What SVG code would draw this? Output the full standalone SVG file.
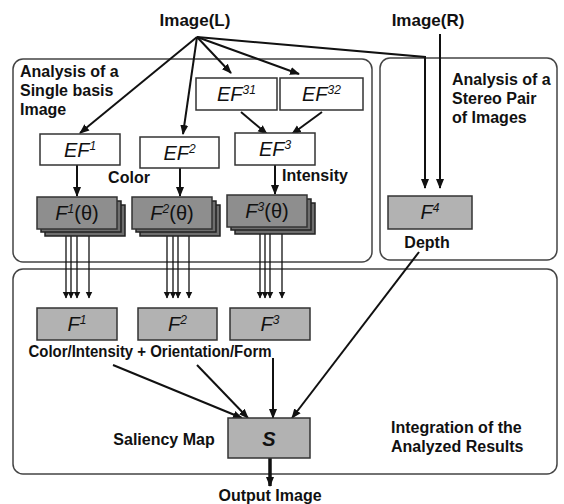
<svg xmlns="http://www.w3.org/2000/svg" width="564" height="504" viewBox="0 0 564 504">
<defs>
<marker id="ah" markerUnits="userSpaceOnUse" markerWidth="10" markerHeight="10" viewBox="0 0 10 10" refX="9" refY="5" orient="auto">
<path d="M0,1 L10,5 L0,9 Z" fill="#111"/>
</marker>
<marker id="ahs" markerUnits="userSpaceOnUse" markerWidth="7" markerHeight="8" viewBox="0 0 7 8" refX="6.5" refY="4" orient="auto">
<path d="M0,0.5 L7,4 L0,7.5 Z" fill="#111"/>
</marker>
<style>
.grp{fill:#fff;stroke:#444;stroke-width:1.5}
.box{fill:#fff;stroke:#333;stroke-width:1.5}
.g1{fill:#b2b2b2;stroke:#333;stroke-width:1.5}
.g2{fill:#8e8e8e;stroke:#333;stroke-width:1.5}
.g3{fill:#6e6e6e;stroke:#222;stroke-width:1.5}
.lbl{font-family:"Liberation Sans",Arial,sans-serif;font-weight:bold;font-size:16px;fill:#111}
.ttl{font-family:"Liberation Sans",Arial,sans-serif;font-weight:bold;font-size:17px;fill:#111}
.ef{font-family:"Liberation Sans",Arial,sans-serif;font-style:italic;font-size:20px;fill:#111}
.c{stroke:#111;stroke-width:2;fill:none}
.t{stroke:#111;stroke-width:1.3;fill:none}
</style>
</defs>

<g id="groups">
<rect class="grp" x="13" y="59" width="359" height="203" rx="10"/>
<rect class="grp" x="380" y="58" width="177" height="202" rx="10"/>
<rect class="grp" x="13" y="269" width="544" height="205" rx="10"/>
</g>

<g id="connectors">
<line class="c" x1="197" y1="37" x2="80" y2="133" marker-end="url(#ah)"/>
<line class="c" x1="197" y1="37" x2="183" y2="134" marker-end="url(#ah)"/>
<line class="c" x1="197" y1="37" x2="231" y2="73" marker-end="url(#ah)"/>
<line class="c" x1="197" y1="37" x2="299" y2="74" marker-end="url(#ah)"/>
<polyline class="c" points="197,37 425,57 425,188" marker-end="url(#ah)"/>
<line class="c" x1="440" y1="34" x2="440" y2="188" marker-end="url(#ah)"/>
<line class="c" x1="241" y1="112" x2="267" y2="134" marker-end="url(#ah)"/>
<line class="c" x1="322" y1="112" x2="292" y2="134" marker-end="url(#ah)"/>
<line class="c" x1="77" y1="165" x2="77" y2="196" marker-end="url(#ah)"/>
<line class="c" x1="180" y1="168" x2="180" y2="196" marker-end="url(#ah)"/>
<line class="c" x1="275" y1="165" x2="275" y2="194" marker-end="url(#ah)"/>
<g>
<line class="t" x1="66" y1="236" x2="66" y2="298" marker-end="url(#ahs)"/>
<line class="t" x1="71" y1="236" x2="71" y2="298" marker-end="url(#ahs)"/>
<line class="t" x1="77" y1="236" x2="77" y2="298" marker-end="url(#ahs)"/>
<line class="t" x1="89" y1="236" x2="89" y2="298" marker-end="url(#ahs)"/>
<line class="t" x1="167" y1="236" x2="167" y2="298" marker-end="url(#ahs)"/>
<line class="t" x1="173" y1="236" x2="173" y2="298" marker-end="url(#ahs)"/>
<line class="t" x1="178" y1="236" x2="178" y2="298" marker-end="url(#ahs)"/>
<line class="t" x1="189" y1="236" x2="189" y2="298" marker-end="url(#ahs)"/>
<line class="t" x1="260" y1="234" x2="260" y2="298" marker-end="url(#ahs)"/>
<line class="t" x1="265" y1="234" x2="265" y2="298" marker-end="url(#ahs)"/>
<line class="t" x1="270" y1="234" x2="270" y2="298" marker-end="url(#ahs)"/>
<line class="t" x1="282" y1="234" x2="282" y2="298" marker-end="url(#ahs)"/>
</g>
<line class="c" x1="113" y1="365" x2="242" y2="418" marker-end="url(#ah)"/>
<line class="c" x1="197" y1="365" x2="248" y2="418" marker-end="url(#ah)"/>
<line class="c" x1="273" y1="358" x2="273" y2="418" marker-end="url(#ah)"/>
<line class="c" x1="419" y1="252" x2="292" y2="418" marker-end="url(#ah)"/>
<line stroke="#111" stroke-width="3.5" x1="270" y1="458" x2="270" y2="486" marker-end="url(#ah)"/>
</g>

<g id="labels">
<text class="ttl" x="195" y="26" text-anchor="middle">Image(L)</text>
<text class="ttl" x="428" y="26" text-anchor="middle">Image(R)</text>
<text class="lbl" x="20" y="77">Analysis of a</text>
<text class="lbl" x="20" y="96">Single basis</text>
<text class="lbl" x="20" y="115">Image</text>
<text class="lbl" x="452" y="85">Analysis of a</text>
<text class="lbl" x="452" y="104">Stereo Pair</text>
<text class="lbl" x="452" y="123">of Images</text>
<text class="lbl" x="129" y="183" text-anchor="middle">Color</text>
<text class="lbl" x="315" y="181" text-anchor="middle">Intensity</text>
<text class="lbl" x="427" y="248" text-anchor="middle">Depth</text>
<text class="lbl" x="150" y="357" text-anchor="middle" textLength="243" lengthAdjust="spacingAndGlyphs">Color/Intensity + Orientation/Form</text>
<text class="lbl" x="164" y="445" text-anchor="middle">Saliency Map</text>
<text class="lbl" x="391" y="433">Integration of the</text>
<text class="lbl" x="391" y="452">Analyzed Results</text>
<text class="lbl" x="270" y="501" text-anchor="middle">Output Image</text>
</g>

<g id="EF31"><rect class="box" x="196" y="78" width="81" height="32"/>
<text class="ef" x="236.5" y="101" text-anchor="middle">EF<tspan dy="-7" font-size="12">31</tspan></text></g>
<g id="EF32"><rect class="box" x="280" y="78" width="83" height="32"/>
<text class="ef" x="321.5" y="101" text-anchor="middle">EF<tspan dy="-7" font-size="12">32</tspan></text></g>
<g id="EF1"><rect class="box" x="40" y="134" width="80" height="31"/>
<text class="ef" x="80" y="157" text-anchor="middle">EF<tspan dy="-7" font-size="12">1</tspan></text></g>
<g id="EF2"><rect class="box" x="140" y="137" width="79" height="31"/>
<text class="ef" x="179.5" y="160" text-anchor="middle">EF<tspan dy="-7" font-size="12">2</tspan></text></g>
<g id="EF3"><rect class="box" x="235" y="133" width="80" height="32"/>
<text class="ef" x="275" y="156" text-anchor="middle">EF<tspan dy="-7" font-size="12">3</tspan></text></g>

<g id="F1theta">
<rect class="g3" x="45" y="205" width="80" height="31"/>
<rect class="g3" x="41" y="201" width="80" height="31"/>
<rect class="g2" x="37" y="197" width="80" height="32"/>
<text class="ef" x="77" y="220" text-anchor="middle">F<tspan dy="-7" font-size="12">1</tspan><tspan dy="7" font-style="normal">(θ)</tspan></text>
</g>
<g id="F2theta">
<rect class="g3" x="140" y="205" width="80" height="31"/>
<rect class="g3" x="136" y="201" width="80" height="31"/>
<rect class="g2" x="132" y="197" width="80" height="32"/>
<text class="ef" x="172" y="220" text-anchor="middle">F<tspan dy="-7" font-size="12">2</tspan><tspan dy="7" font-style="normal">(θ)</tspan></text>
</g>
<g id="F3theta">
<rect class="g3" x="235" y="203" width="80" height="31"/>
<rect class="g3" x="231" y="199" width="80" height="31"/>
<rect class="g2" x="227" y="195" width="80" height="32"/>
<text class="ef" x="267" y="218" text-anchor="middle">F<tspan dy="-7" font-size="12">3</tspan><tspan dy="7" font-style="normal">(θ)</tspan></text>
</g>

<g id="F4"><rect class="g1" x="388" y="196" width="84" height="33"/>
<text class="ef" x="430" y="219" text-anchor="middle">F<tspan dy="-7" font-size="12">4</tspan></text></g>
<g id="F1"><rect class="g1" x="37" y="308" width="80" height="32"/>
<text class="ef" x="77" y="331" text-anchor="middle">F<tspan dy="-7" font-size="12">1</tspan></text></g>
<g id="F2"><rect class="g1" x="138" y="308" width="79" height="32"/>
<text class="ef" x="177.5" y="331" text-anchor="middle">F<tspan dy="-7" font-size="12">2</tspan></text></g>
<g id="F3"><rect class="g1" x="230" y="308" width="80" height="32"/>
<text class="ef" x="270" y="331" text-anchor="middle">F<tspan dy="-7" font-size="12">3</tspan></text></g>
<g id="S"><rect class="g1" x="228" y="418" width="82" height="40"/>
<text class="ef" x="269" y="446" text-anchor="middle" font-weight="bold">S</text></g>
</svg>
